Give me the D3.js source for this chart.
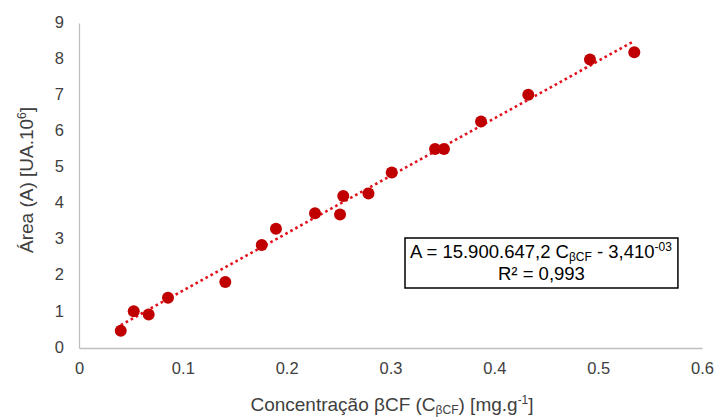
<!DOCTYPE html>
<html>
<head>
<meta charset="utf-8">
<script src="https://cdn.jsdelivr.net/npm/d3@7"></script>
<style>
  html, body { margin: 0; padding: 0; background: #fff; }
  svg { display: block; font-family: "Liberation Sans", Arial, sans-serif; }
</style>
</head>
<body>
<svg id="chart" width="718" height="419"></svg>
<script>
// Calibration data: βCF concentration (mg/g) vs. peak area (UA·10^6)
const concentration = [0.0402, 0.0527, 0.0671, 0.0857, 0.1409, 0.1760, 0.1897, 0.2273, 0.2514,
                       0.2545, 0.2788, 0.3012, 0.3429, 0.3515, 0.3872, 0.4327, 0.4921, 0.5348];
const area = [0.48, 1.02, 0.93, 1.39, 1.83, 2.85, 3.30, 3.73, 3.70,
              4.21, 4.28, 4.86, 5.51, 5.51, 6.27, 7.01, 7.99, 8.19];
const xTicks = [0, 0.1, 0.2, 0.3, 0.4, 0.5, 0.6];
const yTicks = [0, 1, 2, 3, 4, 5, 6, 7, 8, 9];
// Linear fit: A = slope·C + intercept (in UA·10^6)
const slope = 15.9006472;
const intercept = -0.00341;

const svg = d3.select("#chart");
const x = d3.scaleLinear().domain([0, 0.6]).range([79, 702]);
const y = d3.scaleLinear().domain([0, 9]).range([348, 23]);
const axisColor = "#BFBFBF";
const textColor = "#404040";
const fs = 16.5;

// Axes (lines only, no tick marks)
const xAxis = svg.append("g").attr("transform", `translate(0,${y(0)})`)
  .call(d3.axisBottom(x).tickValues(xTicks).tickSize(0).tickPadding(14)
        .tickFormat(d => d === 0 ? "0" : d3.format(".1f")(d)));
xAxis.select(".domain").attr("stroke", axisColor).attr("stroke-width", 1.3);
xAxis.selectAll("text").attr("font-size", fs).attr("fill", textColor)
  .attr("font-family", "Liberation Sans, Arial, sans-serif");

const yAxis = svg.append("g").attr("transform", `translate(${x(0)},0)`)
  .call(d3.axisLeft(y).tickValues(yTicks).tickSize(0).tickPadding(15).tickFormat(d3.format("d")));
yAxis.select(".domain").attr("stroke", axisColor).attr("stroke-width", 1.3);
yAxis.selectAll("text").attr("font-size", fs).attr("fill", textColor)
  .attr("font-family", "Liberation Sans, Arial, sans-serif").attr("dy", "0.25em");

// Trend line across the data range
const cMin = d3.min(concentration), cMax = d3.max(concentration);
svg.append("line")
  .attr("x1", x(cMin)).attr("y1", y(slope * cMin + intercept))
  .attr("x2", x(cMax)).attr("y2", y(slope * cMax + intercept))
  .attr("stroke", "#E3101B").attr("stroke-width", 2.6)
  .attr("stroke-dasharray", "2.6 3.1");

// Data points
svg.append("g").selectAll("circle")
  .data(concentration.map((c, i) => [c, area[i]]))
  .join("circle")
  .attr("cx", d => x(d[0])).attr("cy", d => y(d[1]))
  .attr("r", 6).attr("fill", "#C00000");

// Axis titles
const xt = svg.append("text").attr("x", 392).attr("y", 411)
  .attr("text-anchor", "middle").attr("font-size", 19).attr("fill", textColor);
xt.append("tspan").text("Concentração βCF (C");
xt.append("tspan").attr("font-size", 12).attr("baseline-shift", "-25%").text("βCF");
xt.append("tspan").text(") [mg.g");
xt.append("tspan").attr("font-size", 12).attr("baseline-shift", "super").text("-1");
xt.append("tspan").text("]");

const yt = svg.append("text").attr("transform", "translate(33,180) rotate(-90)")
  .attr("text-anchor", "middle").attr("font-size", 19).attr("fill", textColor);
yt.append("tspan").text("Área (A) [UA.10");
yt.append("tspan").attr("font-size", 12).attr("baseline-shift", "super").text("6");
yt.append("tspan").text("]");

// Equation box
const eqG = svg.append("g");
const rect = eqG.append("rect").attr("fill", "#fff").attr("stroke", "#000").attr("stroke-width", 1.5);
const eq1 = eqG.append("text").attr("x", 410).attr("y", 258).attr("font-size", 18.5).attr("fill", "#000");
eq1.append("tspan").text("A = 15.900.647,2 C");
eq1.append("tspan").attr("font-size", 12).attr("baseline-shift", "-25%").text("βCF");
eq1.append("tspan").text(" - 3,410");
eq1.append("tspan").attr("font-size", 12).attr("baseline-shift", "super").text("-03");
const w1 = eq1.node().getComputedTextLength();
const boxL = 405, boxR = 410 + w1 + 6;
rect.attr("x", boxL).attr("y", 238).attr("width", boxR - boxL).attr("height", 50);
eqG.append("text").attr("x", (boxL + boxR) / 2).attr("y", 280).attr("text-anchor", "middle")
  .attr("font-size", 18.5).attr("fill", "#000").text("R² = 0,993");
</script>
</body>
</html>
